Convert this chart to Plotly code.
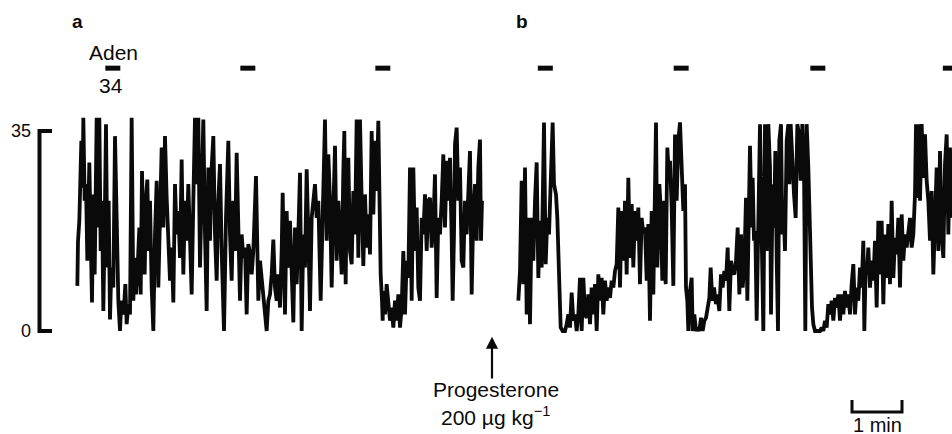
import plotly.graph_objects as go

# ---- data (time in s, value in trace units 0..35) ----
a_time = [0.4, 1.2, 2.8, 4.4, 5.2, 6.8, 7.6, 9.2, 10.8, 12.4, 14.8, 16.4, 18.0, 19.6, 21.2, 23.6, 25.2, 26.8, 28.4, 30.0,
          31.6, 33.2, 34.8, 36.4, 38.0, 39.6, 41.2, 43.6, 45.6, 47.6, 49.6, 51.6, 53.2, 54.8, 56.4, 58.0, 59.6, 61.6, 63.6, 65.6,
          67.6, 69.2, 70.8, 72.4, 74.8, 76.4, 78.0, 79.6, 81.2, 82.8, 84.4, 86.0, 87.6, 89.6, 91.6, 93.6, 95.6, 97.6, 99.6, 101.6,
          103.6, 105.6, 107.6, 109.6, 111.6, 113.6, 115.6, 117.6, 119.6, 121.6, 123.6, 125.6, 127.6, 129.6, 131.6, 133.6, 135.6, 137.6, 139.6, 141.6,
          143.6, 145.6, 147.6, 149.6, 151.6, 153.6, 155.6, 157.6, 159.6, 161.6, 163.6, 165.6, 167.6, 169.6, 171.6, 173.6, 176.4, 178.8, 181.6, 183.6,
          185.6, 187.6, 189.6, 191.6, 193.6, 195.6, 197.6, 199.6, 201.6, 203.6, 205.6, 207.6, 209.6, 211.6, 214.8, 216.4, 217.6, 219.6, 221.6, 223.6,
          225.6, 227.6, 229.6, 231.6, 233.6, 235.6, 237.6, 239.6, 241.6, 243.6, 245.6, 246.8, 248.4, 249.6, 251.6, 253.6, 255.6, 257.6, 259.6, 261.6,
          263.6, 265.6, 267.6, 269.6, 271.6, 273.6, 275.6, 277.6, 279.6, 281.6, 283.6, 285.6, 287.6, 289.6, 292.4, 295.6, 297.6, 299.6, 301.6, 303.6,
          305.6, 307.6, 309.6, 311.6, 313.6, 315.6, 317.6, 319.6, 320.8, 322.4, 323.6, 325.6, 327.6, 329.6, 331.6, 333.6, 335.6, 337.6, 339.6, 341.6,
          343.6, 345.6, 347.6, 349.6, 351.6, 353.6, 355.6, 357.6, 359.6, 361.6, 362.8, 364.4, 366.0, 366.8, 367.6, 369.6, 371.6, 373.6, 375.6, 377.6,
          379.6, 381.6, 383.6, 385.6, 387.6, 389.6, 391.6, 393.6, 395.6, 397.6, 399.6, 401.6, 403.6, 405.6, 407.6, 409.6, 411.6, 413.6, 415.6, 417.6,
          419.6, 421.6, 423.6, 425.6, 427.6, 429.6, 431.6, 433.6, 435.6, 437.6, 439.6, 441.6, 443.6, 445.6, 447.6, 449.6, 450.8, 452.4, 453.6, 455.6,
          457.6, 459.6, 461.6, 463.6, 465.6, 467.6, 469.6, 471.6, 473.6, 475.6, 477.6, 479.6, 481.6, 483.6, 484.8, 486.0]
a_value = [7.9, 15.7, 19.3, 28.0, 33.3, 25.1, 37.3, 22.8, 25.7, 12.3, 29.5, 16.9, 5.0, 23.9, 9.9, 37.3, 18.1, 37.3, 14.0, 22.8,
           3.5, 18.1, 36.2, 11.1, 22.8, 2.0, 11.1, 7.6, 34.1, 19.8, 5.3, 0.0, 5.3, 2.9, 4.1, 8.2, 1.2, 4.7, 2.9, 37.3,
           5.3, 12.8, 6.4, 9.9, 18.1, 6.4, 28.0, 16.9, 9.9, 23.3, 26.5, 14.0, 22.8, 7.6, 0.0, 16.9, 26.3, 7.6, 22.8, 32.1,
           18.1, 34.1, 23.3, 16.9, 8.8, 14.6, 5.0, 25.7, 16.9, 21.0, 12.8, 30.0, 9.9, 22.8, 15.8, 25.7, 14.6, 6.4, 22.8, 37.3,
           25.7, 37.3, 11.1, 28.6, 37.0, 16.9, 3.5, 28.6, 15.8, 28.6, 34.1, 16.9, 8.8, 22.8, 29.2, 14.0, 0.0, 19.8, 33.3, 16.9,
           8.8, 22.8, 14.0, 31.2, 19.8, 5.3, 16.9, 12.8, 14.6, 2.9, 15.2, 13.7, 9.9, 14.0, 27.1, 14.0, 5.3, 12.3, 8.8, 5.3,
           1.8, 0.0, 5.3, 6.4, 9.9, 16.0, 7.6, 5.3, 9.9, 4.1, 14.0, 24.2, 11.1, 2.9, 21.0, 11.1, 19.3, 12.3, 1.5, 18.1,
           8.2, 16.9, 27.7, 0.0, 16.9, 11.1, 28.3, 16.9, 3.5, 19.8, 22.8, 25.7, 19.8, 22.8, 5.3, 25.7, 37.0, 15.8, 30.9, 22.8,
           7.6, 21.0, 32.4, 12.3, 22.8, 16.9, 9.9, 28.0, 35.0, 8.2, 22.8, 30.3, 14.0, 11.7, 24.5, 16.9, 37.0, 12.8, 37.0, 22.8,
           11.4, 23.9, 14.6, 20.4, 13.4, 35.0, 20.4, 33.3, 24.5, 36.8, 22.2, 9.9, 5.3, 1.8, 7.0, 2.9, 8.2, 4.1, 1.8, 4.1,
           0.6, 5.3, 1.8, 6.4, 0.6, 4.1, 14.0, 2.9, 12.3, 9.3, 28.6, 5.3, 28.6, 14.0, 21.6, 7.6, 5.3, 19.8, 16.9, 23.9,
           14.0, 22.8, 23.3, 14.6, 18.7, 27.4, 5.8, 19.8, 16.9, 22.8, 30.9, 18.1, 29.8, 22.8, 30.3, 16.3, 5.3, 16.9, 32.7, 35.6,
           22.8, 28.6, 12.3, 11.1, 22.8, 16.9, 26.3, 31.5, 6.4, 21.0, 25.7, 15.8, 28.6, 33.5, 15.8, 22.8]

b_time = [529.6, 531.6, 533.6, 535.6, 537.6, 539.6, 541.6, 543.6, 545.6, 547.6, 549.6, 551.6, 553.6, 555.6, 557.6, 560.4, 562.4, 564.4, 566.4, 568.4,
          570.8, 572.4, 574.8, 576.4, 577.6, 578.8, 580.4, 582.8, 585.6, 587.6, 589.6, 591.6, 593.6, 595.6, 597.6, 599.6, 601.6, 603.6, 605.6, 607.6,
          609.6, 611.6, 613.6, 615.6, 617.6, 619.6, 621.6, 623.6, 625.6, 627.6, 629.6, 631.6, 633.6, 635.6, 637.6, 639.6, 641.6, 643.6, 645.6, 647.6,
          649.6, 651.6, 653.6, 655.6, 657.6, 659.6, 661.6, 663.6, 665.6, 667.6, 669.6, 671.6, 673.6, 675.6, 677.6, 679.6, 681.6, 683.6, 685.6, 687.6,
          689.6, 691.6, 693.6, 694.8, 696.4, 698.8, 700.4, 702.4, 704.4, 706.4, 708.4, 710.4, 711.6, 713.6, 715.6, 717.6, 719.6, 721.6, 723.6, 725.6,
          727.6, 729.6, 730.8, 732.4, 733.6, 735.6, 737.6, 738.8, 740.8, 742.8, 744.8, 746.8, 748.8, 750.8, 752.8, 754.8, 756.8, 758.8, 760.4, 762.4,
          764.4, 766.8, 768.4, 770.8, 772.8, 774.8, 776.8, 778.8, 780.8, 782.8, 784.8, 786.8, 788.8, 790.8, 792.8, 794.8, 796.8, 798.8, 800.8, 802.8,
          804.4, 807.6, 809.6, 810.8, 812.4, 814.0, 815.6, 817.6, 819.6, 821.6, 823.6, 825.6, 827.6, 829.6, 831.6, 832.8, 834.8, 836.4, 838.0, 839.6,
          841.2, 842.8, 844.8, 846.4, 847.6, 849.6, 851.6, 853.6, 854.8, 856.4, 858.4, 860.4, 862.4, 864.4, 866.4, 868.4, 870.4, 872.4, 874.0, 875.6,
          877.6, 878.8, 880.4, 882.0, 883.6, 885.6, 887.6, 889.6, 891.6, 893.6, 895.6, 897.6, 899.6, 901.6, 903.6, 905.6, 907.6, 909.6, 911.6, 913.6,
          915.6, 917.6, 919.6, 921.6, 923.6, 925.6, 927.6, 929.6, 931.6, 933.6, 935.6, 937.6, 939.6, 941.6, 943.6, 944.8, 946.4, 947.6, 949.6, 951.6,
          953.6, 955.6, 957.6, 959.6, 961.6, 963.6, 965.6, 967.6, 969.6, 971.6, 973.6, 975.6, 977.6, 979.6, 981.6, 983.6, 985.6, 987.6, 989.6, 991.6,
          993.6, 995.6, 997.6, 999.6, 1001.6, 1003.6, 1005.6, 1006.8, 1008.4, 1010.0, 1011.6, 1013.6, 1015.6, 1017.6, 1019.6, 1021.6, 1023.6, 1025.6, 1027.6, 1029.6,
          1031.6, 1033.6, 1035.6, 1037.6, 1039.6, 1041.6, 1043.6, 1045.6, 1047.6, 1049.6]
b_value = [5.3, 10.5, 26.3, 8.2, 28.6, 2.9, 19.8, 1.2, 19.8, 12.3, 22.8, 29.5, 9.3, 19.3, 11.1, 36.5, 11.7, 19.8, 16.9, 25.7,
           36.5, 25.7, 23.9, 19.8, 14.0, 5.3, 0.6, 0.0, 0.0, 1.2, 2.9, 0.6, 6.7, 1.8, 2.9, 0.0, 2.9, 9.3, 0.0, 9.3,
           2.9, 2.3, 6.4, 1.2, 7.6, 2.9, 8.2, 0.0, 9.9, 5.3, 9.3, 2.9, 8.8, 5.3, 7.6, 5.8, 8.8, 7.6, 10.5, 11.7,
           21.6, 7.6, 21.0, 12.3, 22.8, 9.9, 26.8, 12.8, 22.2, 11.1, 21.0, 15.8, 21.6, 8.2, 19.8, 16.9, 18.1, 8.8, 18.7, 1.8,
           21.0, 6.4, 22.8, 36.5, 11.1, 25.7, 21.6, 8.8, 22.8, 8.2, 32.1, 26.8, 29.8, 21.6, 7.9, 34.4, 22.8, 33.3, 36.5, 25.7,
           21.0, 25.7, 7.6, 5.3, 0.0, 7.0, 9.3, 0.0, 2.9, 0.0, 0.6, 0.0, 2.3, 0.0, 1.8, 2.3, 4.7, 5.8, 11.1, 5.3,
           7.6, 4.7, 6.4, 3.5, 9.9, 7.6, 10.5, 8.8, 14.6, 3.5, 12.3, 10.5, 9.9, 12.3, 18.1, 6.4, 16.9, 7.6, 11.7, 23.3,
           5.3, 32.4, 18.1, 26.8, 15.8, 17.5, 1.8, 15.8, 36.2, 16.9, 0.0, 36.2, 14.0, 36.2, 28.6, 2.9, 25.7, 18.1, 31.5, 12.8,
           0.0, 33.3, 36.2, 16.9, 22.8, 14.0, 33.3, 36.2, 25.7, 36.2, 28.6, 23.9, 19.8, 36.2, 34.4, 26.3, 36.2, 28.6, 0.0, 36.2,
           28.6, 21.6, 7.6, 4.1, 1.2, 0.0, 0.0, 0.0, 0.0, 0.6, 0.0, 1.8, 0.6, 4.7, 2.9, 5.3, 1.8, 5.8, 4.1, 6.4,
           1.8, 6.4, 2.9, 7.0, 4.1, 6.4, 2.9, 8.2, 11.7, 2.9, 7.6, 5.3, 11.1, 7.6, 15.8, 0.0, 11.1, 9.9, 14.6, 7.6,
           12.3, 8.8, 15.8, 4.1, 19.3, 9.9, 19.3, 4.7, 16.9, 9.3, 18.7, 8.2, 22.8, 9.3, 16.3, 13.4, 19.8, 7.6, 20.4, 12.3,
           16.9, 14.6, 18.1, 19.8, 14.6, 16.9, 23.9, 36.2, 23.3, 36.2, 22.8, 36.2, 26.8, 34.4, 26.3, 22.8, 15.8, 24.5, 9.9, 18.7,
           28.6, 14.0, 31.5, 16.9, 12.8, 29.2, 34.4, 16.9, 32.1, 19.8]

aden_onsets = [34, 196, 358, 553, 716, 880, 1039]   # s, drug application bars
aden_duration = 18                                   # s
progesterone_time = 498                              # s, injection
scale_max = 35
scale_bar_s = 60

# ---- figure ----
FONT = "Liberation Sans, Arial, Helvetica, sans-serif"
INK = "#0a0a0a"

fig = go.Figure()
for t, v in [(a_time, a_value), (b_time, b_value)]:
    fig.add_trace(go.Scatter(x=t, y=v, mode="lines", line=dict(color=INK, width=3.8),
                             hoverinfo="skip", showlegend=False))

shapes = []
# Aden application bars
for t0 in aden_onsets:
    shapes.append(dict(type="line", xref="x", yref="y", x0=t0, x1=t0 + aden_duration,
                       y0=46.0, y1=46.0, line=dict(color=INK, width=5)))
# vertical calibration bracket 0..35
shapes.append(dict(type="path", xref="x", yref="y",
                   path=f"M -30,{scale_max} L -45,{scale_max} L -45,0 L -30,0",
                   line=dict(color=INK, width=4)))
# 1-min time-scale bar
sb0 = 930
shapes.append(dict(type="path", xref="x", yref="y",
                   path=f"M {sb0},-12.1 L {sb0},-14.2 L {sb0 + scale_bar_s},-14.2 L {sb0 + scale_bar_s},-12.1",
                   line=dict(color=INK, width=3)))

ann = []
def txt(x, y, s, size=21, bold=False, xanchor="center"):
    ann.append(dict(x=x, y=y, xref="x", yref="y", text=(f"<b>{s}</b>" if bold else s),
                    showarrow=False, xanchor=xanchor, yanchor="middle", borderpad=0,
                    font=dict(family=FONT, size=size, color=INK)))

txt(0, 54.1, "a", size=19, bold=True)
txt(534, 54.1, "b", size=19, bold=True)
txt(43.2, 48.8, "Aden")
txt(40.8, 43.0, "34")
txt(-54, scale_max, "35", size=18, xanchor="right")
txt(-54, 0, "0", size=18, xanchor="right")
txt(502.8, -10.3, "Progesterone", size=21)
txt(501.6, -14.9, "200 µg kg<sup>−1</sup>", size=21)
txt(sb0 + scale_bar_s / 2, -16.5, "1 min", size=20)
# progesterone arrow
ann.append(dict(x=progesterone_time, y=-1.0, ax=progesterone_time, ay=-8.6,
                xref="x", yref="y", axref="x", ayref="y", text="", showarrow=True,
                arrowhead=2, arrowsize=1.1, arrowwidth=2.2, arrowcolor=INK))

fig.update_layout(
    width=952, height=434, autosize=False,
    margin=dict(l=0, r=0, t=0, b=0),
    paper_bgcolor="white", plot_bgcolor="white",
    xaxis=dict(range=[-92.4, 1050], visible=False, fixedrange=True),
    yaxis=dict(range=[-18.03, 57.93], visible=False, fixedrange=True),
    shapes=shapes, annotations=ann,
)

fig.write_html("out.html", config={"displayModeBar": False},
               post_script="document.body.style.margin='0';document.body.style.overflow='hidden';")
